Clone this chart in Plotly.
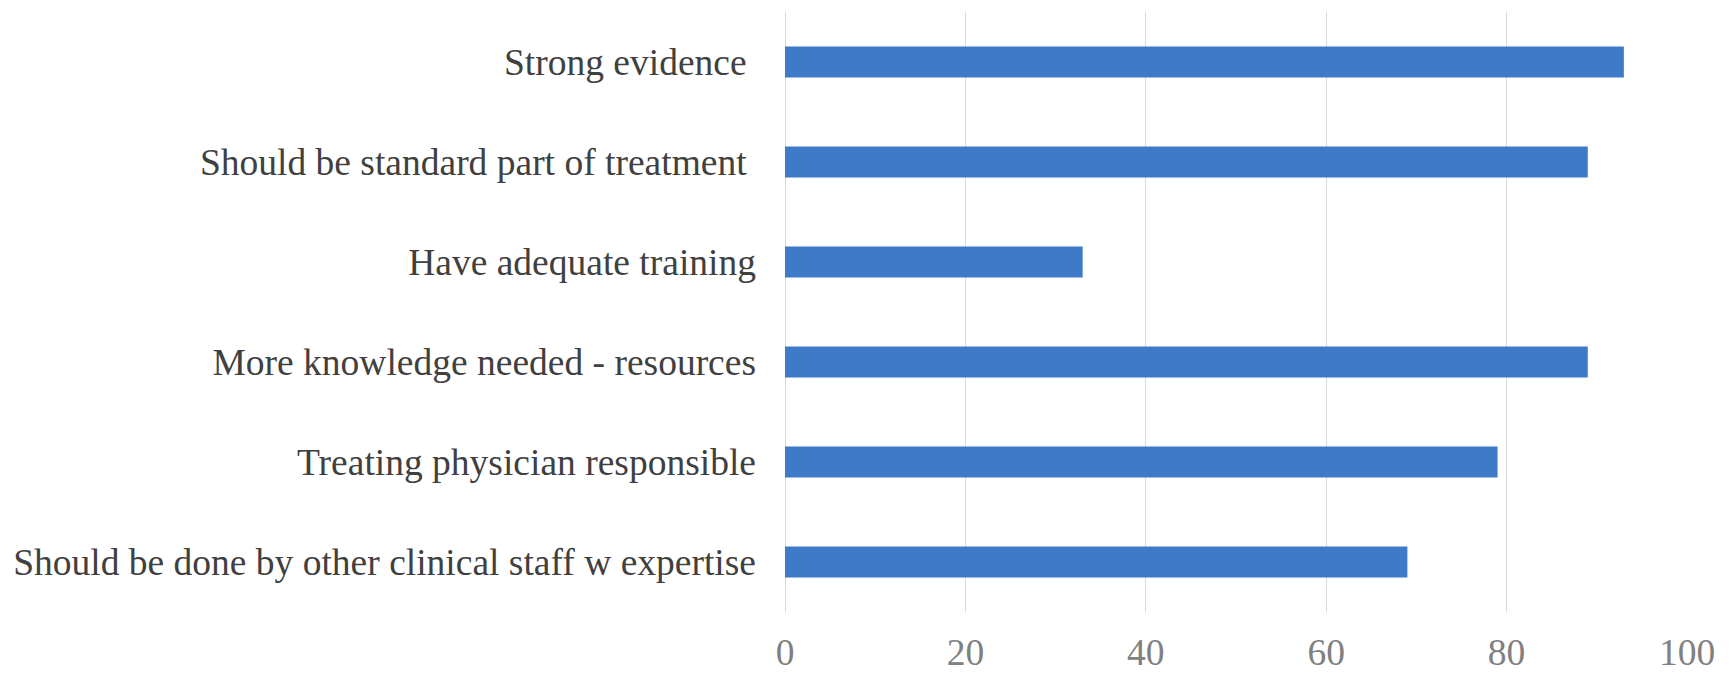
import plotly.graph_objects as go

categories = [
    "Strong evidence ",
    "Should be standard part of treatment ",
    "Have adequate training",
    "More knowledge needed - resources",
    "Treating physician responsible",
    "Should be done by other clinical staff w expertise",
]
values = [93, 89, 33, 89, 79, 69]
x_ticks = [0, 20, 40, 60, 80, 100]

fig = go.Figure(go.Bar(
    x=values, y=categories, orientation="h",
    marker=dict(color="#3F7AC8", line=dict(width=0)),
))

fig.update_layout(
    width=1733, height=673,
    margin=dict(l=785, r=46, t=12, b=61),
    paper_bgcolor="white", plot_bgcolor="white",
    bargap=0.69,
    showlegend=False,
    font=dict(family="Liberation Serif", size=37.5, color="#404040"),
)
fig.update_xaxes(
    range=[0, 100], tickvals=x_ticks,
    showgrid=True, gridcolor="#D9D9D9", gridwidth=1,
    zeroline=True, zerolinecolor="#D9D9D9", zerolinewidth=1,
    showline=False, ticks="", automargin=False,
    ticklabelstandoff=14,
    tickfont=dict(family="Liberation Serif", size=37.5, color="#808080"),
)
fig.update_yaxes(
    autorange="reversed", showgrid=False, showline=False, ticks="",
    automargin=False,
    ticklabelstandoff=28,
    tickfont=dict(family="Liberation Serif", size=37.5, color="#404040"),
)

fig.write_html("out.html")
